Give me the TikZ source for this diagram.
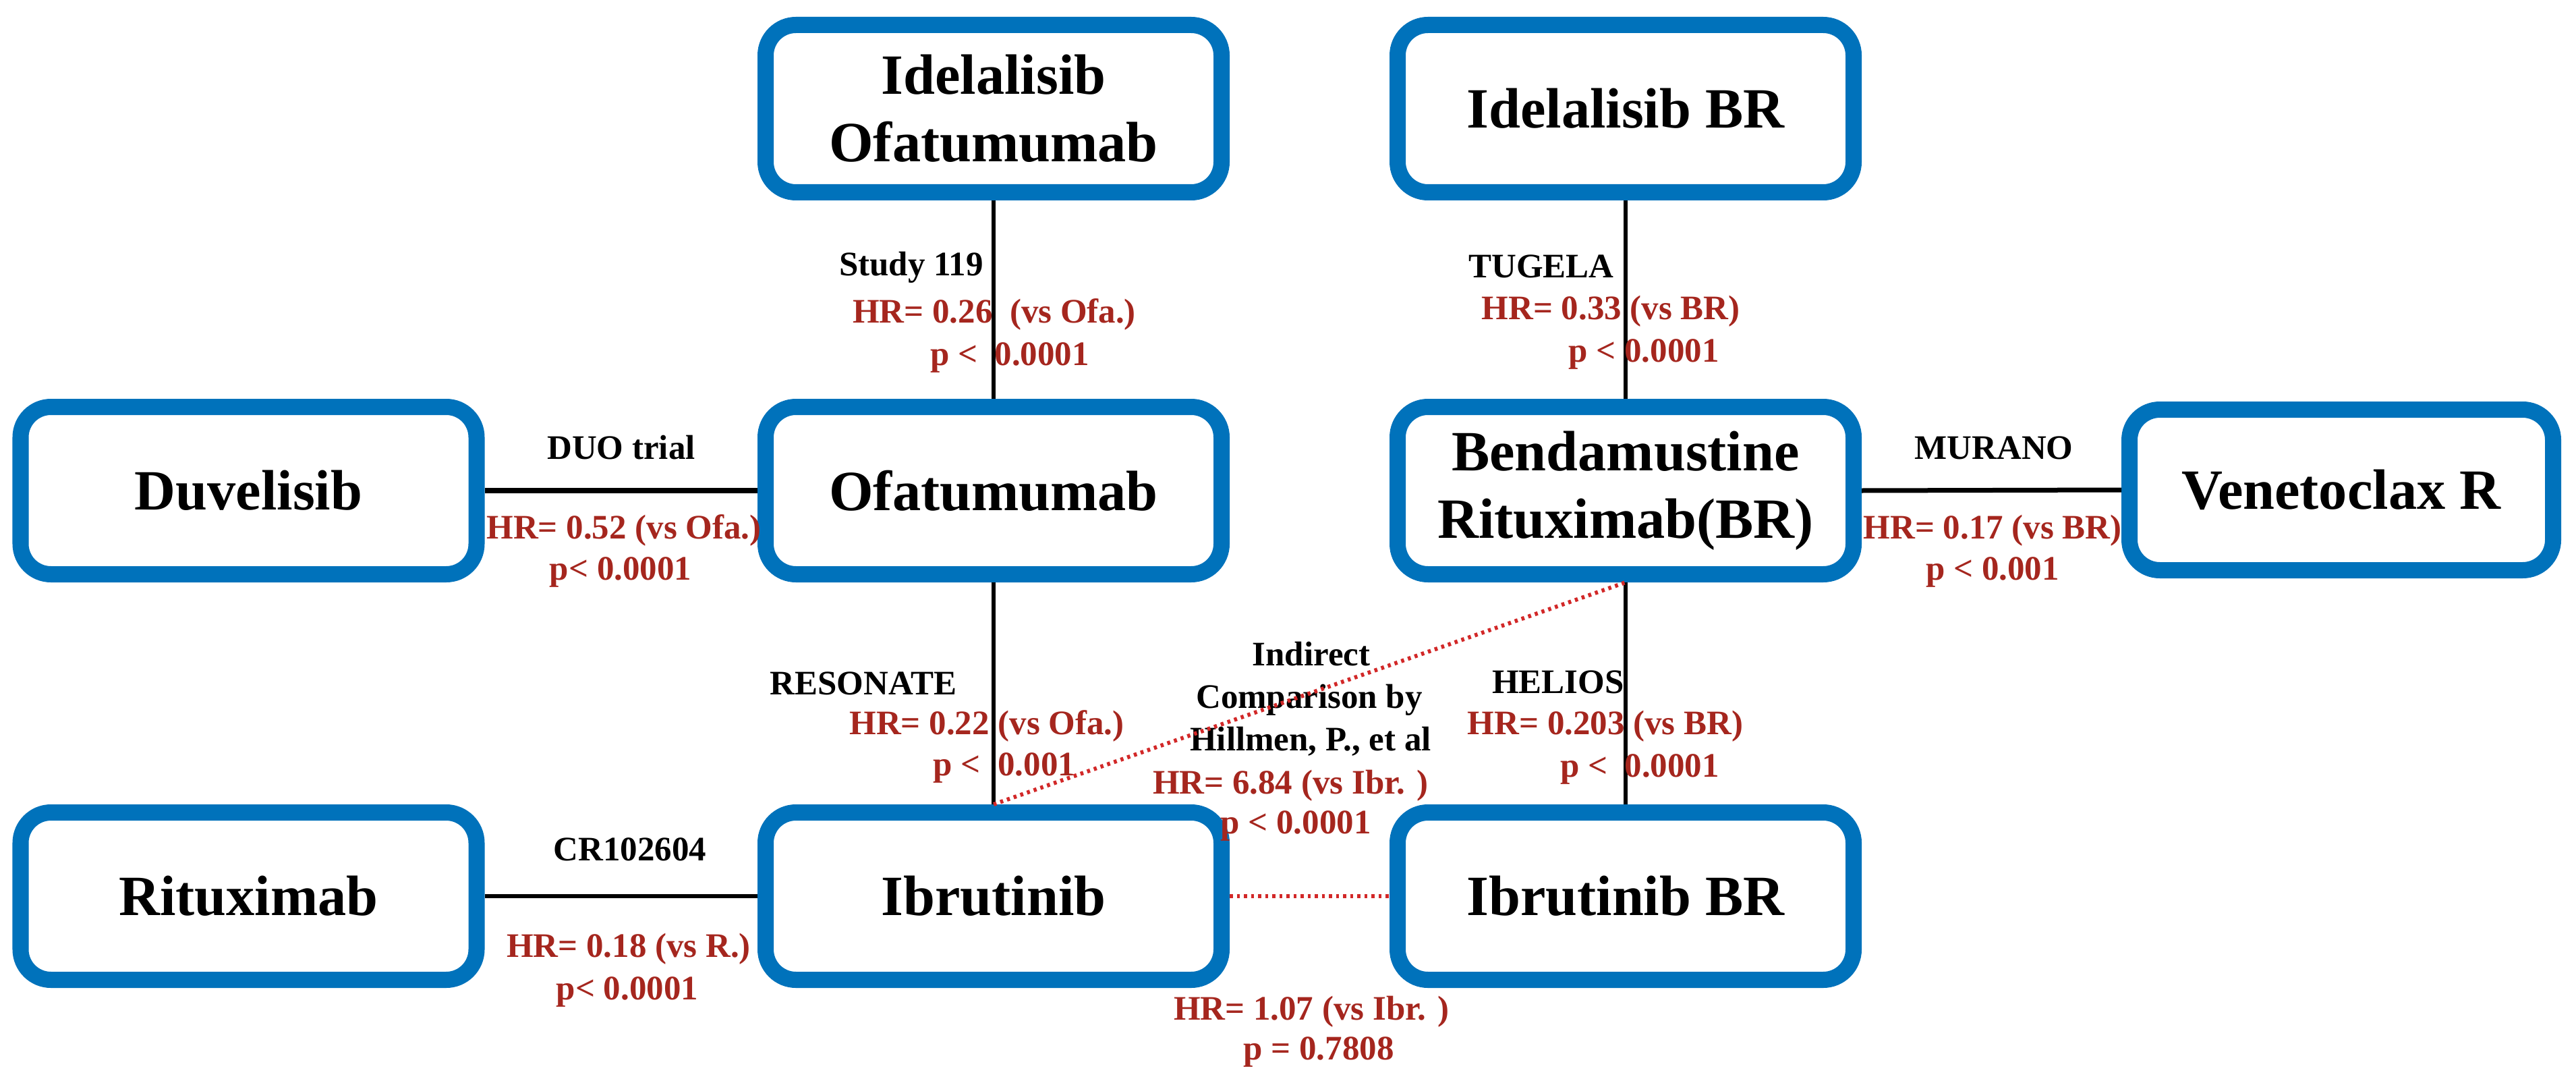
\documentclass[tikz,border=0pt]{standalone}
\usepackage{fontspec}
\setmainfont{Liberation Serif}
\usepackage{tikz}
\definecolor{boxblue}{RGB}{0,114,187}
\definecolor{hrred}{RGB}{165,38,30}
\definecolor{dotred}{RGB}{210,40,40}
\tikzset{
  drugbox/.style={draw=boxblue, line width=0.24cm, rounded corners=0.45cm,
    minimum width=6.76cm, minimum height=2.48cm, align=center,
    font=\fontsize{24}{28.5}\selectfont\bfseries},
  trial/.style={font=\fontsize{14.5}{17}\selectfont\bfseries, inner sep=0pt,
    text height=0.35cm, text depth=0cm},
  hr/.style={trial, text=hrred},
  link/.style={line width=0.06cm},
  indirect/.style={draw=dotred, line width=0.06cm, dash pattern=on 0.045cm off 0.06cm}
}

\begin{document}
\begin{tikzpicture}
    \useasboundingbox (0,0) rectangle (38.19,15.95);

    % Boites des traitements
    \node[drugbox] (idof) at (14.73, 14.34) {Idelalisib\\Ofatumumab};
    \node[drugbox] (idbr) at (24.10, 14.34) {Idelalisib BR};
    \node[drugbox] (duv) at (3.685, 8.68) {Duvelisib};
    \node[drugbox] (ofa) at (14.73, 8.68) {Ofatumumab};
    \node[drugbox] (bend) at (24.10, 8.68) {Bendamustine\\Rituximab(BR)};
    \node[drugbox, minimum width=6.28cm, minimum height=2.38cm] (vene) at (34.71, 8.69) {Venetoclax R};
    \node[drugbox] (rit) at (3.685, 2.67) {Rituximab};
    \node[drugbox] (ibr) at (14.73, 2.67) {Ibrutinib};
    \node[drugbox] (ibrbr) at (24.10, 2.67) {Ibrutinib BR};

    % Essais directs
    \draw[link] (idof.south) -- (ofa.north);
    \draw[link] (ofa.south) -- (ibr.north);
    \draw[link] (idbr.south) -- (bend.north);
    \draw[link] (bend.south) -- (ibrbr.north);
    \draw[link, line width=0.08cm] (duv.east) -- (ofa.west);
    \draw[link] (rit.east) -- (ibr.west);
    \draw[link, line width=0.07cm] (bend.east) -- (vene.west);

    % Study 119
    \node[trial] (st119) at (13.51, 12.04) {Study 119};
    \node[hr] (hrst119) at (14.74, 11.34) {HR= 0.26~~(vs Ofa.)};
    \node[hr] (pst119) at (14.97, 10.71) {p <~~0.0001};

    % DUO
    \node[trial] (duo) at (9.21, 9.32) {DUO trial};
    \node[hr] (hrduo) at (9.25, 8.14) {HR= 0.52 (vs Ofa.)};
    \node[hr] (pduo) at (9.20, 7.53) {p< 0.0001};

    % RESONATE
    \node[trial] (reso) at (12.80, 5.83) {RESONATE};
    \node[hr] (hrreso) at (14.63, 5.24) {HR= 0.22 (vs Ofa.)};
    \node[hr] (preso) at (14.89, 4.63) {p <~~0.001};

    % CR102604
    \node[trial] (cr) at (9.34, 3.37) {CR102604};
    \node[hr] (hrcr) at (9.32, 1.94) {HR= 0.18 (vs R.)};
    \node[hr] (pcr) at (9.30, 1.31) {p< 0.0001};

    % TUGELA
    \node[trial] (tug) at (22.85, 12.01) {TUGELA};
    \node[hr] (hrtug) at (23.88, 11.39) {HR= 0.33 (vs BR)};
    \node[hr] (ptug) at (24.37, 10.76) {p < 0.0001};

    % MURANO
    \node[trial] (mur) at (29.56, 9.32) {MURANO};
    \node[hr] (hrmur) at (29.54, 8.14) {HR= 0.17 (vs BR)};
    \node[hr] (pmur) at (29.54, 7.53) {p < 0.001};

    % HELIOS
    \node[trial] (hel) at (23.10, 5.85) {HELIOS};
    \node[hr] (hrhel) at (23.80, 5.24) {HR= 0.203 (vs BR)};
    \node[hr] (phel) at (24.31, 4.61) {p <~~0.0001};

    % Comparaison indirecte
    \node[trial] (indA) at (19.44, 6.26) {Indirect};
    \node[trial] (indB) at (19.41, 5.63) {Comparison by};
    \node[trial] (indC) at (19.43, 5.00) {Hillmen, P., et al};
    \node[hr] (hrind) at (19.13, 4.36) {HR= 6.84 (vs Ibr. )};
    \node[hr] (pind) at (19.21, 3.77) {p < 0.0001};
    \node[hr] (hribr) at (19.44, 1.01) {HR= 1.07 (vs Ibr. )};
    \node[hr] (pibr) at (19.55, 0.42) {p = 0.7808};

    % Lignes pointillees
    \draw[indirect] (ibr.north) -- (bend.south);
    \draw[indirect] (ibr.east) -- (ibrbr.west);
\end{tikzpicture}
\end{document}
